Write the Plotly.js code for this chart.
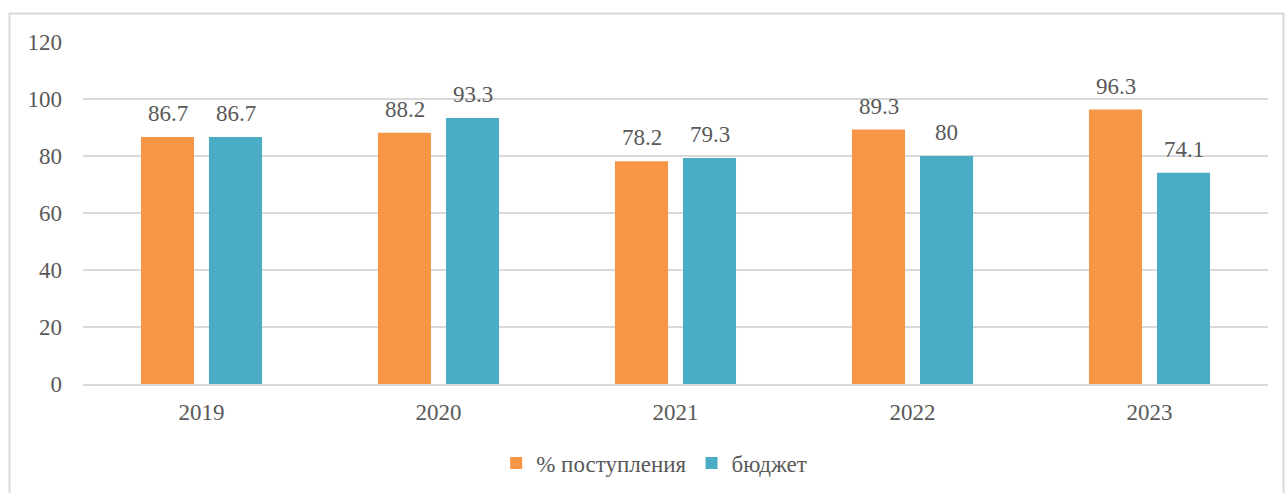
<!DOCTYPE html>
<html><head><meta charset="utf-8">
<script src="https://cdn.plot.ly/plotly-3.0.1.min.js"></script>
<style>html,body{margin:0;padding:0;background:#fff}#chart{width:1287px;height:493px}
#chart text{font-family:"Liberation Serif","Times New Roman","DejaVu Serif",serif !important}</style>
</head><body><div id="chart"></div>
<script>
const categories = ['2019','2020','2021','2022','2023'];
const seriesNames = ['% поступления','бюджет'];
const admissionPct = [86.7, 88.2, 78.2, 89.3, 96.3];
const budget = [86.7, 93.3, 79.3, 80, 74.1];
const colors = ['#F79646','#4BACC6'];
const yTicks = [0,20,40,60,80,100,120];

const font = {family:'"Liberation Serif", "DejaVu Serif", serif', color:'#595959'};
const traces = [admissionPct, budget].map((vals,i)=>({
  type:'bar', name:seriesNames[i], x:categories, y:vals,
  marker:{color:colors[i]}, hoverinfo:'skip'
}));
const offsets = [-34, 34];
const annotations = [];
[admissionPct, budget].forEach((vals,i)=>{
  vals.forEach((v,j)=>{
    annotations.push({x:j, y:v, xref:'x', yref:'y', text:String(v), showarrow:false,
      xshift:offsets[i], yanchor:'bottom', yshift:9, font:Object.assign({size:23}, font)});
  });
});
const layout = {
  width:1287, height:493,
  margin:{l:83, r:19, t:42, b:109},
  paper_bgcolor:'#fff', plot_bgcolor:'#fff',
  font:Object.assign({size:23}, font),
  barmode:'group', bargap:0.426, bargroupgap:0.22,
  xaxis:{type:'category', range:[-0.5, categories.length-0.5], showgrid:false, showline:true, linecolor:'#d9d9d9', linewidth:2,
    ticks:'', tickfont:Object.assign({size:23}, font), ticklabelstandoff:6},
  yaxis:{range:[0,120], tickvals:yTicks, ticktext:yTicks.map(String), showgrid:true, gridcolor:'#d9d9d9', gridwidth:2,
    zeroline:false, showline:false, ticks:'', ticklabelstandoff:20, tickfont:Object.assign({size:23}, font)},
  showlegend:true,
  legend:{orientation:'h', x:0.482, xanchor:'center', yref:'container', y:0.061, yanchor:'middle',
    font:Object.assign({size:23}, font), itemwidth:30, tracegroupgap:0},
  annotations:annotations,
  shapes:[{type:'rect', xref:'paper', yref:'paper', x0:-0.062, x1:1.0131, y0:-0.6, y1:1.0833,
    line:{color:'#d9d9d9', width:2}, layer:'below'}]
};
Plotly.newPlot('chart', traces, layout, {displayModeBar:false, staticPlot:true});
</script></body></html>
